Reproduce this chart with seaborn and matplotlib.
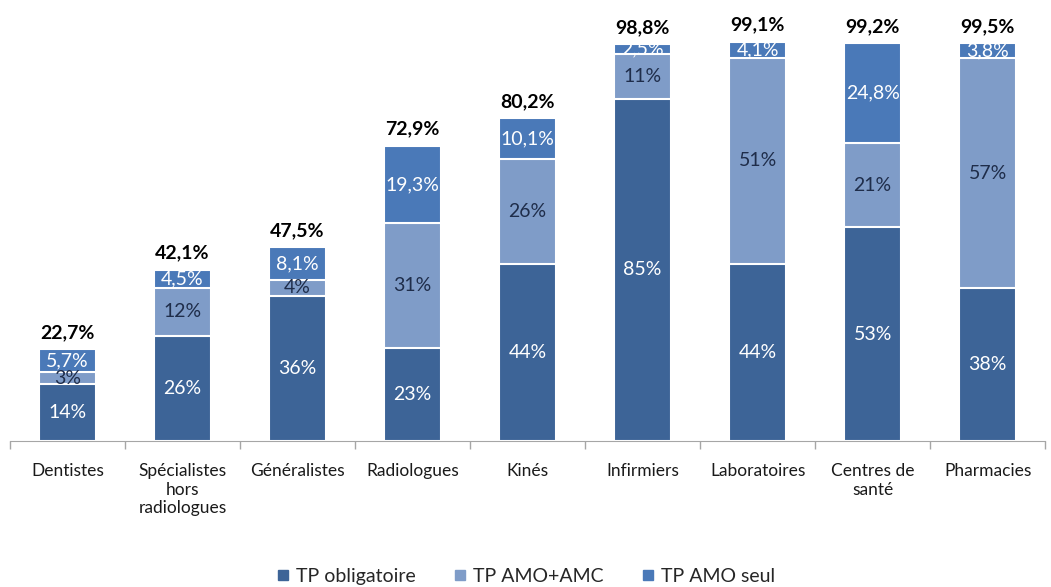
import pandas as pd
import matplotlib.pyplot as plt
import seaborn as sns
from matplotlib.lines import Line2D

categories = ['Dentistes', 'Spécialistes\nhors\nradiologues', 'Généralistes', 'Radiologues',
              'Kinés', 'Infirmiers', 'Laboratoires', 'Centres de\nsanté', 'Pharmacies']
tp_obligatoire = [14, 26, 36, 23, 44, 85, 44, 53, 38]
tp_amo_amc = [3, 12, 4, 31, 26, 11, 51, 21, 57]
tp_amo_seul = [5.7, 4.5, 8.1, 19.3, 10.1, 2.5, 4.1, 24.8, 3.8]
totals = [22.7, 42.1, 47.5, 72.9, 80.2, 98.8, 99.1, 99.2, 99.5]

c_dark = '#3D6497'
c_light = '#7F9CC8'
c_mid = '#4A79B8'

df = pd.DataFrame({'cat': categories, 'a': tp_obligatoire, 'b': tp_amo_amc, 'c': tp_amo_seul})
df['ab'] = df['a'] + df['b']
df['abc'] = df['ab'] + df['c']

sns.set_style('white')
plt.rcParams['font.family'] = ['Lato', 'DejaVu Sans']

fig = plt.figure(figsize=(10.51, 5.87), dpi=100)
ax = fig.add_axes([0.0095, 0.249, 0.985, 0.686])

# overlapping bars, tallest first
for col, c in (('abc', c_mid), ('ab', c_light), ('a', c_dark)):
    sns.barplot(data=df, x='cat', y=col, color=c, width=0.5, saturation=1,
                edgecolor='white', linewidth=1.5, ax=ax)

def fr(v, dec):
    return f'{v:.{dec}f}'.replace('.', ',') + '%'

for i, row in df.iterrows():
    ax.text(i, row['a'] / 2, fr(row['a'], 0), ha='center', va='center', color='white', fontsize=14)
    ax.text(i, row['a'] + row['b'] / 2, fr(row['b'], 0), ha='center', va='center', color='#1F2D4A', fontsize=14)
    ax.text(i, row['ab'] + row['c'] / 2, fr(row['c'], 1), ha='center', va='center', color='white', fontsize=14)
    ax.text(i, row['abc'] + 2.0, fr(totals[i], 1), ha='center', va='bottom', color='black',
            fontsize=14, fontweight='bold', clip_on=False)

ax.set_ylim(0, 100)
ax.set_xlim(-0.5, len(categories) - 0.5)
ax.set_xlabel('')
ax.set_ylabel('')
ax.set_yticks([])
for s in ['top', 'right', 'left']:
    ax.spines[s].set_visible(False)
ax.spines['bottom'].set_color('#A6A6A6')
ax.set_xticks(range(len(categories)))
ax.set_xticklabels(categories, fontsize=12.5, color='#1A1A1A', va='top', linespacing=1.2)
ax.set_xticks([x - 0.5 for x in range(len(categories) + 1)], minor=True)
ax.tick_params(axis='x', which='major', length=0, pad=16)
ax.tick_params(axis='x', which='minor', length=6, color='#A6A6A6', width=1, bottom=True)

handles = [Line2D([], [], marker='s', linestyle='', color=c, markersize=7) for c in (c_dark, c_light, c_mid)]
fig.legend(handles, ['TP obligatoire', 'TP AMO+AMC', 'TP AMO seul'], loc='lower center',
           bbox_to_anchor=(0.5, -0.026), ncol=3, frameon=False, fontsize=14, handlelength=0.7,
           handletextpad=0.35, columnspacing=1.9)

fig.savefig('out.png', dpi=100)
